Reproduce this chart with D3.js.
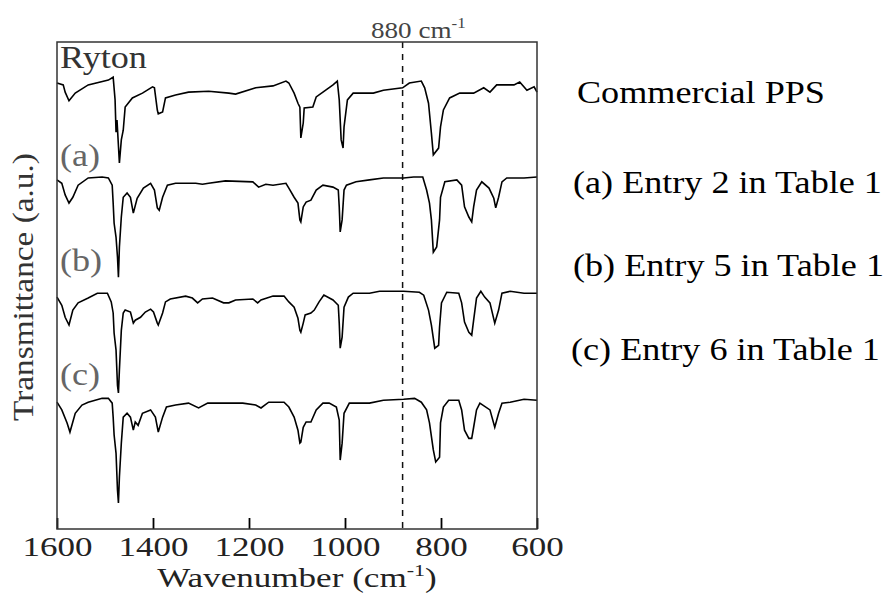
<!DOCTYPE html>
<html>
<head>
<meta charset="utf-8">
<script src="https://cdn.jsdelivr.net/npm/d3@7"></script>
<style>
    body { margin: 0; background: #fff; }
    text { font-family: "Liberation Serif", "Times New Roman", Times, serif; }
</style>
</head>
<body>
<div id="chart"></div>
<script>

// x ticks (wavenumber, cm-1) and the marker line
const wnTicks = [1600, 1400, 1200, 1000, 800, 600];
const markerWn = 880;

// trace names drawn inside the frame, and the legend on the right
const seriesNames = ['Ryton', '(a)', '(b)', '(c)'];
const legendLabels = ['Commercial PPS', '(a) Entry 2 in Table 1', '(b) Entry 5 in Table 1', '(c) Entry 6 in Table 1'];

// spectra, [wavenumber, transmittance (a.u., already offset)]
const ryton = [[1600,91.5],[1587,91.1],[1583,89.6],[1575,87.8],[1562,89.4],[1535,91.1],[1493,92.1],[1483,92.7],[1479,88.0],[1477,81.3],[1475,83.8],[1470,74.9],[1466,79.7],[1462,81.7],[1458,86.5],[1443,88.4],[1422,89.4],[1401,90.7],[1397,90.5],[1391,85.9],[1389,85.1],[1380,85.5],[1374,88.4],[1353,89.0],[1326,89.6],[1284,89.8],[1242,89.4],[1228,89.2],[1186,90.5],[1150,90.9],[1123,91.9],[1117,91.5],[1106,89.4],[1098,87.3],[1094,86.5],[1092,80.1],[1087,83.2],[1085,86.3],[1067,86.5],[1060,88.6],[1046,89.6],[1025,91.1],[1016,91.9],[1012,88.0],[1008,79.7],[1004,78.0],[1002,82.4],[995,88.0],[983,89.4],[941,89.4],[920,90.0],[880,90.5],[866,91.5],[841,91.9],[834,90.5],[826,87.3],[820,81.1],[816,76.6],[805,78.0],[801,82.4],[795,85.9],[782,88.4],[761,89.4],[732,89.4],[711,90.5],[698,89.6],[684,91.1],[648,91.1],[636,91.7],[621,90.0],[606,90.7],[600,89.6]];

const entry2 = [[1600,71.4],[1590,70.7],[1583,68.3],[1575,66.6],[1567,67.8],[1556,70.3],[1535,71.8],[1506,72.0],[1493,71.8],[1485,70.3],[1483,66.6],[1481,62.4],[1477,59.5],[1474,55.4],[1472,51.2],[1470,57.5],[1466,63.7],[1462,67.8],[1454,68.7],[1447,67.8],[1441,64.5],[1433,67.6],[1420,69.7],[1405,70.7],[1397,69.3],[1391,65.6],[1387,65.1],[1380,67.8],[1370,70.3],[1353,70.7],[1311,70.7],[1297,70.5],[1284,70.7],[1249,71.2],[1192,71.0],[1180,69.9],[1165,70.5],[1150,70.3],[1123,70.7],[1117,69.7],[1106,67.8],[1098,66.6],[1094,63.1],[1092,62.7],[1087,65.8],[1081,66.8],[1071,67.2],[1060,69.3],[1046,70.3],[1025,69.9],[1014,69.3],[1012,65.8],[1010,60.6],[1006,63.1],[1002,69.3],[997,70.3],[977,71.0],[949,71.4],[920,71.8],[878,71.8],[857,72.0],[838,72.0],[830,69.3],[824,66.6],[820,63.1],[816,56.4],[809,57.5],[803,63.1],[801,67.8],[792,71.0],[767,71.4],[757,70.3],[751,65.8],[742,63.7],[736,62.7],[732,65.8],[726,69.3],[715,71.0],[700,69.7],[690,67.6],[686,65.6],[680,67.8],[673,71.0],[663,71.8],[627,71.8],[600,72.0]];

const entry5 = [[1600,47.1],[1590,45.4],[1583,42.9],[1575,41.3],[1567,44.4],[1556,45.9],[1535,46.9],[1516,47.9],[1495,47.9],[1487,46.1],[1483,43.8],[1481,39.6],[1477,36.1],[1474,28.8],[1472,27.2],[1470,32.0],[1466,40.2],[1462,43.8],[1458,44.4],[1447,44.0],[1441,41.7],[1437,42.3],[1426,42.9],[1416,44.0],[1405,44.6],[1399,44.0],[1391,41.7],[1389,41.3],[1380,43.8],[1374,46.1],[1364,46.7],[1332,47.3],[1318,46.9],[1307,45.9],[1297,46.7],[1276,46.9],[1253,45.9],[1242,45.9],[1228,46.5],[1192,46.7],[1182,45.9],[1175,46.5],[1150,47.3],[1127,47.3],[1117,46.1],[1106,45.0],[1098,42.7],[1094,40.2],[1092,39.8],[1087,41.7],[1083,43.4],[1071,43.8],[1064,44.4],[1054,46.1],[1044,47.5],[1025,46.5],[1014,45.4],[1012,41.7],[1010,36.5],[1006,38.8],[1002,45.0],[993,47.1],[983,47.9],[949,47.9],[928,48.3],[878,48.3],[845,48.1],[836,47.5],[826,44.4],[820,41.3],[813,36.5],[805,37.1],[803,40.9],[799,45.9],[788,48.1],[763,47.9],[757,45.9],[751,41.9],[742,39.8],[736,39.2],[732,42.3],[726,46.9],[717,48.3],[709,47.1],[698,45.9],[688,41.7],[680,44.4],[673,47.9],[656,48.3],[627,47.9],[600,47.9]];

const entry6 = [[1600,25.3],[1590,23.7],[1579,21.0],[1573,19.1],[1562,23.0],[1548,24.7],[1535,25.3],[1506,26.1],[1493,26.1],[1485,25.1],[1483,22.2],[1481,18.5],[1477,14.7],[1474,7.1],[1472,4.4],[1470,9.8],[1466,16.8],[1462,22.2],[1454,23.0],[1447,22.2],[1441,19.5],[1437,21.2],[1431,20.5],[1422,23.0],[1405,23.7],[1395,22.2],[1389,19.1],[1380,22.2],[1372,24.3],[1353,24.7],[1326,25.1],[1305,24.1],[1286,25.1],[1255,25.1],[1213,25.1],[1186,24.7],[1175,24.1],[1159,25.3],[1127,25.3],[1117,24.3],[1106,22.2],[1098,19.5],[1094,16.8],[1092,17.0],[1087,20.1],[1081,21.2],[1071,21.2],[1060,23.7],[1046,25.1],[1033,25.1],[1018,24.3],[1012,21.6],[1010,13.3],[1006,16.8],[1002,23.0],[991,25.1],[949,25.1],[920,25.7],[878,25.9],[855,26.1],[841,25.3],[830,23.7],[824,21.0],[816,15.4],[811,12.9],[803,13.9],[801,21.0],[795,24.3],[784,25.7],[763,25.7],[757,23.7],[751,19.5],[742,17.8],[736,17.8],[732,20.1],[726,23.7],[719,25.1],[698,23.7],[688,20.1],[680,23.0],[673,25.1],[656,25.3],[627,25.9],[600,25.7]];

const spectra = [ryton, entry2, entry5, entry6];


class SpectraVis {

    constructor(parentElement) {
        this.parentElement = parentElement;
        this.initVis();
    }

    initVis() {
        let vis = this;

        vis.margin = {top: 42, right: 358, bottom: 64, left: 57};
        vis.width = 895 - vis.margin.left - vis.margin.right;
        vis.height = 593 - vis.margin.top - vis.margin.bottom;

        vis.svg = d3.select("#" + vis.parentElement).append("svg")
            .attr("width", 895)
            .attr("height", 593);

        vis.g = vis.svg.append("g")
            .attr("transform", `translate(${vis.margin.left}, ${vis.margin.top})`);

        // wavenumber runs right to left
        vis.x = d3.scaleLinear().domain([1600, 600]).range([0, vis.width]);
        vis.y = d3.scaleLinear().domain([-1, 100]).range([vis.height, 0]);

        // the printed figure is a bit wider than plain Times, so stretch text
        vis.stretch = 1.13;

        vis.line = d3.line()
            .x(d => vis.x(d[0]))
            .y(d => vis.y(d[1]));

        vis.updateVis();
    }

    updateVis() {
        let vis = this;

        // dashed marker at 880
        vis.g.append("line")
            .attr("x1", vis.x(markerWn)).attr("x2", vis.x(markerWn))
            .attr("y1", 0).attr("y2", vis.height)
            .attr("stroke", "#111")
            .attr("stroke-width", 1.5)
            .attr("stroke-dasharray", "6,6");

        // spectra
        vis.g.selectAll(".spectrum")
            .data(spectra)
            .enter().append("path")
            .attr("class", "spectrum")
            .attr("d", vis.line)
            .attr("fill", "none")
            .attr("stroke", "#000")
            .attr("stroke-width", 1.6)
            .attr("stroke-linejoin", "miter");

        // bottom axis, ticks pointing into the frame
        vis.xAxis = d3.axisBottom(vis.x)
            .tickValues(wnTicks)
            .tickFormat(d3.format("d"))
            .tickSizeInner(-11)
            .tickSizeOuter(0)
            .tickPadding(7);

        let ax = vis.g.append("g")
            .attr("transform", `translate(0, ${vis.height})`)
            .call(vis.xAxis);
        ax.select(".domain").remove();
        ax.selectAll(".tick line").attr("stroke", "#000").attr("stroke-width", 1.8);
        ax.selectAll(".tick text")
            .attr("fill", "#222")
            .style("font-size", "28px")
            .style("font-family", '"Liberation Serif", "Times New Roman", serif')
            .attr("transform", "scale(1.25, 1)");

        // frame
        vis.g.append("rect")
            .attr("width", vis.width)
            .attr("height", vis.height)
            .attr("fill", "none")
            .attr("stroke", "#333")
            .attr("stroke-width", 1.5);

        // trace names inside the frame
        let namePos = [[3, 26, "#333"], [3, 124, "#666"], [3, 229, "#666"], [3, 343, "#666"]];
        seriesNames.forEach((name, i) => {
            vis.g.append("text")
                .attr("transform", `translate(${namePos[i][0]}, ${namePos[i][1]}) scale(${vis.stretch}, 1)`)
                .attr("fill", namePos[i][2])
                .style("font-size", "32px")
                .text(name);
        });

        // marker label
        let mk = vis.svg.append("text")
            .attr("transform", `translate(371, 38) scale(${vis.stretch}, 1)`)
            .attr("fill", "#444")
            .style("font-size", "24px");
        mk.append("tspan").text(markerWn + " cm");
        mk.append("tspan").attr("dy", -10).style("font-size", "15px").text("-1");

        // axis titles
        let xt = vis.svg.append("text")
            .attr("transform", `translate(297, 587) scale(1.3, 1)`)
            .attr("text-anchor", "middle")
            .attr("fill", "#222")
            .style("font-size", "27px");
        xt.append("tspan").text("Wavenumber (cm");
        xt.append("tspan").attr("dy", -11).style("font-size", "17px").text("-1");
        xt.append("tspan").attr("dy", 11).text(")");

        vis.svg.append("text")
            .attr("transform", `translate(33, 287) rotate(-90) scale(1.11, 1)`)
            .attr("text-anchor", "middle")
            .attr("fill", "#333")
            .style("font-size", "30px")
            .text("Transmittance (a.u.)");

        // legend on the right
        let legendPos = [[577, 103], [573, 193], [573, 276], [571, 360]];
        legendLabels.forEach((lab, i) => {
            vis.svg.append("text")
                .attr("transform", `translate(${legendPos[i][0]}, ${legendPos[i][1]}) scale(${vis.stretch}, 1)`)
                .attr("fill", "#000")
                .style("font-size", "32px")
                .text(lab);
        });
    }
}

new SpectraVis("chart");

</script>
</body>
</html>
